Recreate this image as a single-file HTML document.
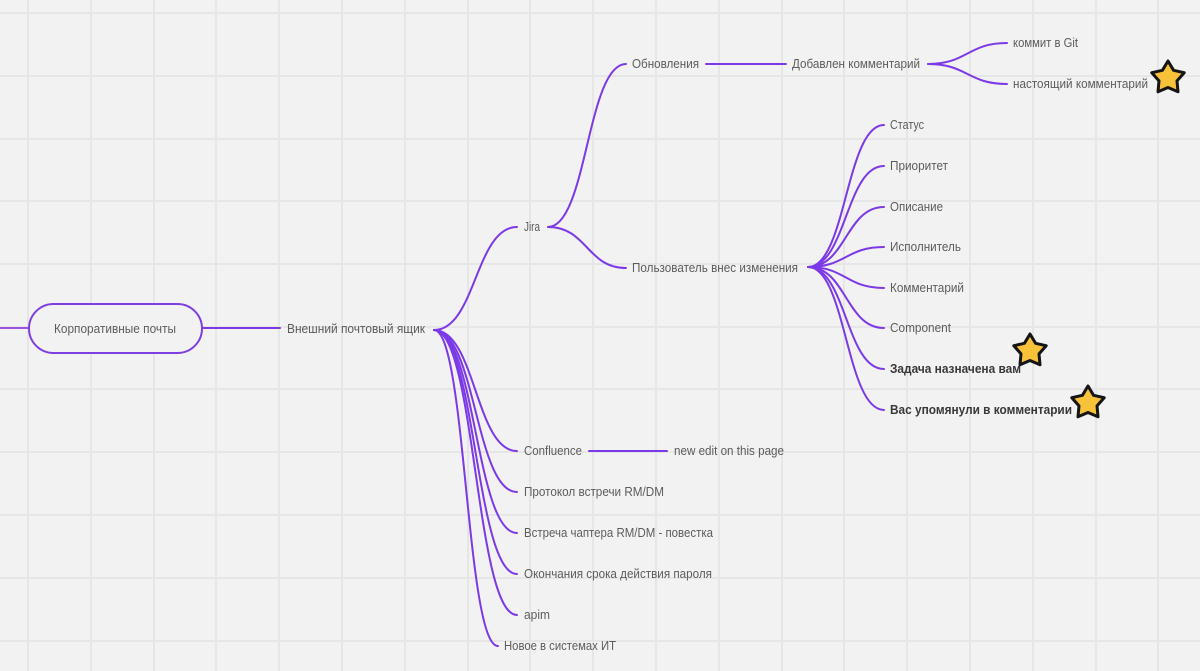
<!DOCTYPE html>
<html>
<head>
<meta charset="utf-8">
<style>
  html, body { margin:0; padding:0; background:#f2f2f2; }
  svg { display:block; }
  text { font-family: "Liberation Sans", "Noto Sans CJK SC", sans-serif; font-size:12.5px; fill:#5c5c5c; }
  text.b { font-weight:bold; fill:#383838; }
</style>
</head>
<body>
<svg width="1200" height="671" viewBox="0 0 1200 671" xmlns="http://www.w3.org/2000/svg">
  <rect x="0" y="0" width="1200" height="671" fill="#f2f2f2"/>
  <g stroke="#e6e6e6" stroke-width="2">
    <line x1="28" y1="0" x2="28" y2="671"/>
    <line x1="91" y1="0" x2="91" y2="671"/>
    <line x1="154" y1="0" x2="154" y2="671"/>
    <line x1="216" y1="0" x2="216" y2="671"/>
    <line x1="279" y1="0" x2="279" y2="671"/>
    <line x1="342" y1="0" x2="342" y2="671"/>
    <line x1="405" y1="0" x2="405" y2="671"/>
    <line x1="468" y1="0" x2="468" y2="671"/>
    <line x1="530" y1="0" x2="530" y2="671"/>
    <line x1="593" y1="0" x2="593" y2="671"/>
    <line x1="656" y1="0" x2="656" y2="671"/>
    <line x1="719" y1="0" x2="719" y2="671"/>
    <line x1="782" y1="0" x2="782" y2="671"/>
    <line x1="844" y1="0" x2="844" y2="671"/>
    <line x1="907" y1="0" x2="907" y2="671"/>
    <line x1="970" y1="0" x2="970" y2="671"/>
    <line x1="1033" y1="0" x2="1033" y2="671"/>
    <line x1="1096" y1="0" x2="1096" y2="671"/>
    <line x1="1158" y1="0" x2="1158" y2="671"/>
    <line x1="0" y1="13" x2="1200" y2="13"/>
    <line x1="0" y1="76" x2="1200" y2="76"/>
    <line x1="0" y1="139" x2="1200" y2="139"/>
    <line x1="0" y1="201" x2="1200" y2="201"/>
    <line x1="0" y1="264" x2="1200" y2="264"/>
    <line x1="0" y1="327" x2="1200" y2="327"/>
    <line x1="0" y1="389" x2="1200" y2="389"/>
    <line x1="0" y1="452" x2="1200" y2="452"/>
    <line x1="0" y1="515" x2="1200" y2="515"/>
    <line x1="0" y1="578" x2="1200" y2="578"/>
    <line x1="0" y1="641" x2="1200" y2="641"/>
  </g>

  <!-- connectors -->
  <g fill="none" stroke="#7c3ae6" stroke-width="2" stroke-linecap="round">
    <line x1="0" y1="328" x2="29" y2="328" stroke="#9a55e0"/>
    <line x1="202" y1="328" x2="280" y2="328"/>
    <line x1="706" y1="64" x2="786" y2="64"/>
    <line x1="589" y1="451" x2="667" y2="451"/>

    <path d="M434 330 C475.5 330 475.5 227 517 227"/>
    <path d="M434 330 C475.5 330 475.5 451 517 451"/>
    <path d="M434 330 C475.5 330 475.5 492 517 492"/>
    <path d="M434 330 C475.5 330 475.5 533 517 533"/>
    <path d="M434 330 C475.5 330 475.5 574 517 574"/>
    <path d="M434 330 C475.5 330 475.5 615 517 615"/>
    <path d="M434 330 C466 330 466 646 498 646"/>

    <path d="M548 227 C587 227 587 64 626 64"/>
    <path d="M548 227 C587 227 587 268 626 268"/>

    <path d="M928 64 C967.5 64 967.5 43 1007 43"/>
    <path d="M928 64 C967.5 64 967.5 84 1007 84"/>

    <path d="M808 267 C846 267 846 125 884 125"/>
    <path d="M808 267 C846 267 846 166 884 166"/>
    <path d="M808 267 C846 267 846 207 884 207"/>
    <path d="M808 267 C846 267 846 247 884 247"/>
    <path d="M808 267 C846 267 846 288 884 288"/>
    <path d="M808 267 C846 267 846 328 884 328"/>
    <path d="M808 267 C846 267 846 369 884 369"/>
    <path d="M808 267 C846 267 846 410 884 410"/>
  </g>

  <rect x="29" y="304" width="173" height="49" rx="24.5" ry="24.5" fill="#f2f2f2" stroke="#7e3fe0" stroke-width="2"/>

  <text x="54" y="333" textLength="122" lengthAdjust="spacingAndGlyphs">Корпоративные почты</text>
  <text x="287" y="333" textLength="138" lengthAdjust="spacingAndGlyphs">Внешний почтовый ящик</text>
  <text x="524" y="231" textLength="16" lengthAdjust="spacingAndGlyphs">Jira</text>
  <text x="632" y="68" textLength="67" lengthAdjust="spacingAndGlyphs">Обновления</text>
  <text x="792" y="68" textLength="128" lengthAdjust="spacingAndGlyphs">Добавлен комментарий</text>
  <text x="1013" y="47" textLength="65" lengthAdjust="spacingAndGlyphs">коммит в Git</text>
  <text x="1013" y="88" textLength="135" lengthAdjust="spacingAndGlyphs">настоящий комментарий</text>
  <text x="632" y="272" textLength="166" lengthAdjust="spacingAndGlyphs">Пользователь внес изменения</text>

  <text x="890" y="129" textLength="34" lengthAdjust="spacingAndGlyphs">Статус</text>
  <text x="890" y="170" textLength="58" lengthAdjust="spacingAndGlyphs">Приоритет</text>
  <text x="890" y="211" textLength="53" lengthAdjust="spacingAndGlyphs">Описание</text>
  <text x="890" y="251" textLength="71" lengthAdjust="spacingAndGlyphs">Исполнитель</text>
  <text x="890" y="292" textLength="74" lengthAdjust="spacingAndGlyphs">Комментарий</text>
  <text x="890" y="332" textLength="61" lengthAdjust="spacingAndGlyphs">Component</text>
  <text class="b" x="890" y="373" textLength="131" lengthAdjust="spacingAndGlyphs">Задача назначена вам</text>
  <text class="b" x="890" y="414" textLength="182" lengthAdjust="spacingAndGlyphs">Вас упомянули в комментарии</text>

  <text x="524" y="455" textLength="58" lengthAdjust="spacingAndGlyphs">Confluence</text>
  <text x="674" y="455" textLength="110" lengthAdjust="spacingAndGlyphs">new edit on this page</text>
  <text x="524" y="496" textLength="140" lengthAdjust="spacingAndGlyphs">Протокол встречи RM/DM</text>
  <text x="524" y="537" textLength="189" lengthAdjust="spacingAndGlyphs">Встреча чаптера RM/DM - повестка</text>
  <text x="524" y="578" textLength="188" lengthAdjust="spacingAndGlyphs">Окончания срока действия пароля</text>
  <text x="524" y="619" textLength="26" lengthAdjust="spacingAndGlyphs">apim</text>
  <text x="504" y="650" textLength="112" lengthAdjust="spacingAndGlyphs">Новое в системах ИТ</text>

  <defs>
    <polygon id="star" points="0,-17 5.6,-7.7 16.2,-5.3 9,2.9 10,13.8 0,9.5 -10,13.8 -9,2.9 -16.2,-5.3 -5.6,-7.7"/>
  </defs>
  <g fill="#f8c13a" stroke="#151515" stroke-width="3" stroke-linejoin="round">
    <use href="#star" x="1168" y="78"/>
    <use href="#star" x="1030" y="351"/>
    <use href="#star" x="1088" y="403"/>
  </g>
</svg>
</body>
</html>
